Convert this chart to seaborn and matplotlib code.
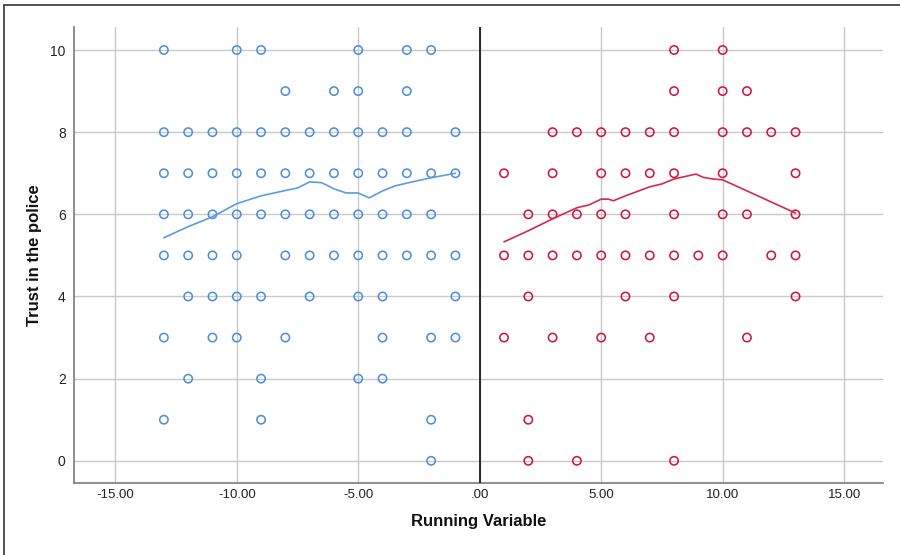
import matplotlib
matplotlib.use("Agg")
import matplotlib.pyplot as plt
import seaborn as sns
import pandas as pd
from matplotlib.lines import Line2D

# ---------------- data ----------------
left_x = ([-13, -10, -9, -5, -3, -2] +
          [-8, -6, -5, -3] +
          [-13, -12, -11, -10, -9, -8, -7, -6, -5, -4, -3, -1] +
          [-13, -12, -11, -10, -9, -8, -7, -6, -5, -4, -3, -2, -1] +
          [-13, -12, -11, -10, -9, -8, -7, -6, -5, -4, -3, -2] +
          [-13, -12, -11, -10, -8, -7, -6, -5, -4, -3, -2, -1] +
          [-12, -11, -10, -9, -7, -5, -4, -1] +
          [-13, -11, -10, -8, -4, -2, -1] +
          [-12, -9, -5, -4] +
          [-13, -9, -2] +
          [-2])
left_y = ([10] * 6 + [9] * 4 + [8] * 12 + [7] * 13 + [6] * 12 + [5] * 12 +
          [4] * 8 + [3] * 7 + [2] * 4 + [1] * 3 + [0] * 1)

right_x = ([8, 10] +
           [8, 10, 11] +
           [3, 4, 5, 6, 7, 8, 10, 11, 12, 13] +
           [1, 3, 5, 6, 7, 8, 10, 13] +
           [2, 3, 4, 5, 6, 8, 10, 11, 13] +
           [1, 2, 3, 4, 5, 6, 7, 8, 9, 10, 12, 13] +
           [2, 6, 8, 13] +
           [1, 3, 5, 7, 11] +
           [2] +
           [2, 4, 8])
right_y = ([10] * 2 + [9] * 3 + [8] * 10 + [7] * 8 + [6] * 9 + [5] * 12 +
           [4] * 4 + [3] * 5 + [1] * 1 + [0] * 3)

left_fit_x = [-13, -12, -11, -10, -9, -8, -7.5, -7, -6.5, -6, -5.5, -5, -4.55, -4, -3.5, -3, -2, -1]
left_fit_y = [5.43, 5.70, 5.94, 6.26, 6.45, 6.58, 6.64, 6.79, 6.77, 6.62, 6.52, 6.52, 6.40, 6.57, 6.69, 6.76, 6.89, 7.00]

right_fit_x = [1, 2, 3, 4, 4.5, 5, 5.3, 5.5, 6, 7, 7.5, 8, 8.9, 9.2, 9.6, 10, 13]
right_fit_y = [5.33, 5.60, 5.89, 6.16, 6.23, 6.37, 6.37, 6.33, 6.45, 6.67, 6.74, 6.86, 6.98, 6.90, 6.86, 6.84, 6.03]

x_ticks = [-15, -10, -5, 0, 5, 10, 15]
x_tick_labels = ["-15.00", "-10.00", "-5.00", ".00", "5.00", "10.00", "15.00"]
y_ticks = [0, 2, 4, 6, 8, 10]
x_label = "Running Variable"
y_label = "Trust in the police"

# ---------------- style ----------------
sns.set_style("white")
plt.rcParams["font.family"] = ["Liberation Sans", "DejaVu Sans"]

BLUE = "#4F8FDC"
BLUE_LINE = "#5C9BE2"
RED = "#D0173F"
RED_LINE = "#D42A4E"
GRID = "#C9C9C9"

fig = plt.figure(figsize=(9, 5.55), dpi=100)
ax = fig.add_axes([74 / 900, 1 - 483 / 555, (883 - 74) / 900, (483 - 27) / 555])

ax.set_xlim(-16.7, 16.6)
ax.set_ylim(-0.54, 10.56)
ax.set_xticks(x_ticks)
ax.set_yticks(y_ticks)
ax.grid(True, color=GRID, linewidth=1.0)
ax.set_axisbelow(True)

left_df = pd.DataFrame({"x": left_x, "y": left_y})
right_df = pd.DataFrame({"x": right_x, "y": right_y})

sns.scatterplot(data=left_df, x="x", y="y", ax=ax, s=36, marker="o",
                facecolor="none", edgecolor=BLUE, linewidth=1.15, zorder=3)
sns.scatterplot(data=right_df, x="x", y="y", ax=ax, s=36, marker="o",
                facecolor="none", edgecolor=RED, linewidth=1.15, zorder=3)

sns.lineplot(x=left_fit_x, y=left_fit_y, ax=ax, color=BLUE_LINE, linewidth=1.2,
             sort=False, estimator=None, zorder=4)
sns.lineplot(x=right_fit_x, y=right_fit_y, ax=ax, color=RED_LINE, linewidth=1.2,
             sort=False, estimator=None, zorder=4)

ax.axvline(0, color="#1a1a1a", linewidth=1.3, zorder=5)

for side in ["top", "right"]:
    ax.spines[side].set_visible(False)
for side in ["left", "bottom"]:
    ax.spines[side].set_color("#7a7a7a")
    ax.spines[side].set_linewidth(1.2)

ax.set_xticklabels(x_tick_labels, fontsize=9.5,
                   family=["Liberation Sans Narrow", "Liberation Sans", "DejaVu Sans"])
ax.set_yticklabels([str(v) for v in y_ticks], fontsize=10)
ax.tick_params(axis="both", length=0, colors="#222222")
ax.tick_params(axis="y", pad=6)
ax.tick_params(axis="x", pad=4)

ax.set_xlabel(x_label, fontsize=12, fontweight="bold", labelpad=10, color="#111111")
ax.set_ylabel(y_label, fontsize=12, fontweight="bold", labelpad=6, color="#111111")

# outer frame (left & top visible in reference)
fig.add_artist(Line2D([4 / 900, 4 / 900], [0, 1 - 5 / 555], transform=fig.transFigure,
                      color="#444444", linewidth=1.3))
fig.add_artist(Line2D([4 / 900, 1], [1 - 5 / 555, 1 - 5 / 555], transform=fig.transFigure,
                      color="#444444", linewidth=1.3))

fig.savefig("out.png", dpi=100)
